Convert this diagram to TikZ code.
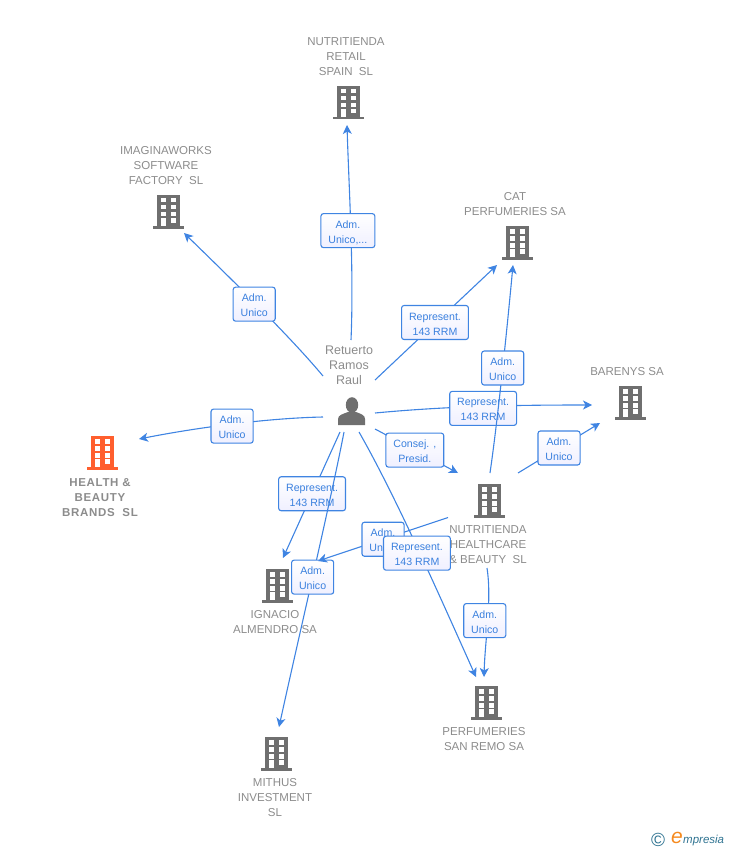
\documentclass[tikz,border=0pt]{standalone}
\usepackage{fontspec}
\setmainfont{Liberation Sans}
\usetikzlibrary{arrows.meta}

\definecolor{linkblue}{HTML}{3F84E2}
\definecolor{tagblue}{HTML}{3A80DE}
\definecolor{iconwhite}{HTML}{FFFFFF}
\definecolor{icongray}{HTML}{6F6F6F}
\definecolor{labelgray}{HTML}{8C8C8C}
\definecolor{mainorange}{HTML}{FF5F2E}
\definecolor{logoteal}{HTML}{2F7391}
\definecolor{logoorange}{HTML}{F58A1F}

\tikzstyle{site} = [rectangle, inner sep=0pt, outer sep=0pt]
\tikzstyle{lbl} = [align=center, inner sep=0pt, text=labelgray, font=\fontsize{11.5}{15}\selectfont]
\tikzstyle{tag} = [rectangle, rounded corners=2.5pt, draw=linkblue, line width=1.1pt, top color=white, bottom color=white!94!blue, text=tagblue, align=center, inner xsep=7.5pt, inner ysep=0pt, minimum height=34pt, font=\fontsize{10.6}{15}\selectfont, text height=27pt, text depth=2pt]
\tikzstyle{arrow} = [draw=linkblue, line width=1.1pt, -{Stealth[length=9pt,width=9pt,inset=2.5pt]}]

\tikzset{
  building/.pic={
    \fill [pic actions] (-11,-16) rectangle (12,15);
    \fill [pic actions] (-15,15) rectangle (16,17.5);
    \foreach \wy in {-13,-6,1} {
      \fill [iconwhite] (-7,\wy) rectangle (-2.5,\wy+4.5);
      \fill [iconwhite] (3,\wy) rectangle (7.5,\wy+4.5);
    }
    \fill [iconwhite] (-7,7) rectangle (-2.5,15);
    \fill [iconwhite] (3,7) rectangle (7.5,11.5);
  }
}

\begin{document}
\begin{tikzpicture}[x=1pt, y=-1pt]
  \useasboundingbox (0,0) rectangle (728,850);

  % companies
  \node (retail) [site, minimum width=78pt, minimum height=90pt] at (346,80) {};
  \pic [fill=icongray] at (348,102) {building};
  \node (retail name) [lbl] at (346,57) {NUTRITIENDA\\RETAIL\\SPAIN\ \ SL};

  \node (imagina) [site, minimum width=92pt, minimum height=90pt] at (166,188) {};
  \pic [fill=icongray] at (168,211) {building};
  \node (imagina name) [lbl] at (166,166) {IMAGINAWORKS\\SOFTWARE\\FACTORY\ \ SL};

  \node (cat) [site, minimum width=102pt, minimum height=75pt] at (515,227.5) {};
  \pic [fill=icongray] at (517,242) {building};
  \node (cat name) [lbl] at (515,204.5) {CAT\\PERFUMERIES SA};

  \node (barenys) [site, minimum width=72pt, minimum height=58pt] at (628,394) {};
  \pic [fill=icongray] at (630,402) {building};
  \node (barenys name) [lbl] at (627,372) {BARENYS SA};

  \node (health) [site, minimum width=78pt, minimum height=90pt] at (100,475) {};
  \pic [fill=mainorange] at (102,452) {building};
  \node (health name) [lbl, font=\fontsize{11.5}{15}\selectfont\bfseries\addfontfeature{LetterSpace=6}] at (100,498) {HEALTH \&\\BEAUTY\\BRANDS\ \ SL};

  \node (healthcare) [site, minimum width=80pt, minimum height=95pt] at (488,520.5) {};
  \pic [fill=icongray] at (489,500) {building};
  \node (healthcare name) [lbl] at (488,545) {NUTRITIENDA\\HEALTHCARE\\\&\ BEAUTY\ \ SL};

  \node (ignacio) [site, minimum width=85pt, minimum height=79pt] at (275.5,597.5) {};
  \pic [fill=icongray] at (277,585) {building};
  \node (ignacio name) [lbl] at (275,622.5) {IGNACIO\\ALMENDRO SA};

  \node (sanremo) [site, minimum width=84pt, minimum height=78pt] at (484,716) {};
  \pic [fill=icongray] at (486,702) {building};
  \node (sanremo name) [lbl] at (484,739.5) {PERFUMERIES\\SAN REMO SA};

  \node (mithus) [site, minimum width=75pt, minimum height=93pt] at (274.5,773.5) {};
  \pic [fill=icongray] at (276,753) {building};
  \node (mithus name) [lbl] at (275,798) {MITHUS\\INVESTMENT\\SL};

  % person
  \node (ramos) [site, minimum width=52pt, minimum height=92pt] at (349,386) {};
  \node (ramos name) [lbl, font=\fontsize{12.5}{15}\selectfont] at (349,365) {Retuerto\\Ramos\\Raul};
  \fill [icongray] (352,405) ellipse [x radius=6.2, y radius=7.8];
  \fill [icongray] (338,425) -- (338,419) .. controls (338,415) and (343,414) .. (348,412) -- (356,412) .. controls (361,414) and (365,415) .. (365,419) -- (365,425) -- cycle;

  % links from the person
  \draw [arrow] ([xshift=2pt]ramos.north) .. controls (354,270) and (349,190) .. node [tag, pos=.5, xshift=-3pt] {Adm.\\Unico,...} ([xshift=1pt]retail.south);
  \draw [arrow] ([yshift=10pt]ramos.west) .. controls (288,334) and (222,270) .. node [tag, pos=.49, xshift=-2pt] {Adm.\\Unico} ([xshift=18pt]imagina.south);
  \draw [arrow] ([yshift=6pt]ramos.east) -- node [tag, pos=.5, xshift=-1pt] {Represent.\\143 RRM} ([xshift=-18pt]cat.south);
  \draw [arrow] ([yshift=-31pt]ramos.west) .. controls (270,418) and (200,427) .. node [tag, pos=.51, yshift=-2pt] {Adm.\\Unico} ([yshift=-9pt]health.north east);
  \draw [arrow] ([yshift=-43pt]ramos.east) -- node [tag, pos=.48] {Consej. ,\\Presid.} ([xshift=-30pt]healthcare.north);
  \draw [arrow] ([xshift=-9pt]ramos.south) -- node [tag, pos=.49] {Represent.\\143 RRM} ([xshift=7.5pt]ignacio.north);
  \draw [arrow] ([xshift=-5pt]ramos.south) .. controls (332,495) and (298,640) .. node [tag, pos=.52] {Adm.\\Unico} ([xshift=4.5pt]mithus.north);
  \draw [arrow] ([yshift=-27pt]ramos.east) .. controls (449,406) and (517,405) .. node [tag, pos=.5, yshift=-2pt] {Represent.\\143 RRM} ([yshift=-11pt]barenys.west);

  % links from the healthcare company
  \draw [arrow] ([xshift=2pt]healthcare.north) .. controls (497,425) and (506,340) .. node [tag, pos=.55] {Adm.\\Unico} ([xshift=-2pt]cat.south);
  \draw [arrow] ([xshift=-10pt]healthcare.north east) -- node [tag, pos=.5] {Adm.\\Unico} ([xshift=-28pt]barenys.south);
  \draw [arrow] ([yshift=3pt]healthcare.west) -- node [tag, pos=.5] {Adm.\\Unico} ([yshift=-3pt]ignacio.north east);
  \draw [arrow] ([xshift=-1pt]healthcare.south) .. controls (492,600) and (485,640) .. node [tag, pos=.5, xshift=-3pt] {Adm.\\Unico} (sanremo.north);
  \draw [arrow] ([xshift=10pt]ramos.south) .. controls (395,495) and (437,590) .. node [tag, pos=.53, xshift=-3pt] {Represent.\\143 RRM} ([xshift=-8pt]sanremo.north);

  % logo
  \node (logo c) [inner sep=0pt, text=logoteal, font=\fontsize{19}{19}\selectfont] at (658,840) {©};
  \node (logo e) [inner sep=0pt, text=logoorange, font=\fontsize{21}{21}\selectfont\itshape] at (677,838) {e};
  \node (logo text) [inner sep=0pt, anchor=west, text=logoteal, font=\fontsize{11.5}{12}\selectfont\itshape] at (683,841) {mpresia};
\end{tikzpicture}
\end{document}
